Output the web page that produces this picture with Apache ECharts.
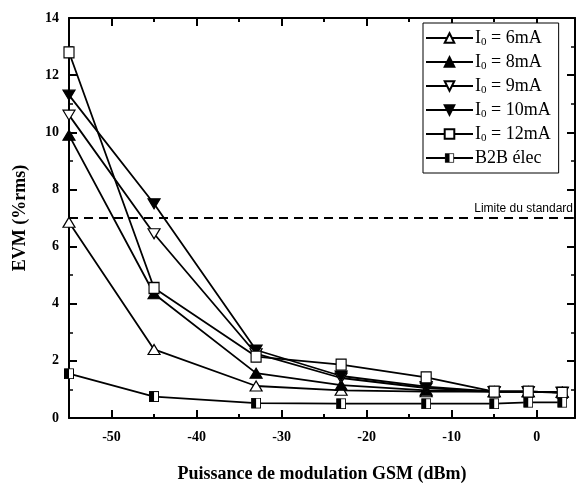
<!DOCTYPE html>
<html><head><meta charset="utf-8">
<script src="https://cdn.jsdelivr.net/npm/echarts@6/dist/echarts.min.js"></script>
<style>html,body{margin:0;padding:0;background:#fff}#c{width:577px;height:488px}</style>
</head><body><div id="c"></div>
<script>
var xPower = [-55, -45, -33, -23, -13, -5, -1, 3];
var i6mA  = [6.85, 2.40, 1.12, 0.97, 0.92, 0.92, 0.92, 0.90];
var i8mA  = [9.90, 4.35, 1.57, 1.15, 0.97, 0.92, 0.92, 0.90];
var i9mA  = [10.60, 6.45, 2.25, 1.40, 1.05, 0.92, 0.92, 0.90];
var i10mA = [11.30, 7.50, 2.38, 1.47, 1.10, 0.92, 0.92, 0.90];
var i12mA = [12.80, 4.55, 2.15, 1.87, 1.42, 0.92, 0.92, 0.88];
var b2b   = [1.55, 0.75, 0.52, 0.50, 0.50, 0.50, 0.55, 0.55];
var seriesNames = ['I0 = 6mA', 'I0 = 8mA', 'I0 = 9mA', 'I0 = 10mA', 'I0 = 12mA', 'B2B élec'];
var xMajorTicks = [-50, -40, -30, -20, -10, 0];
var xMinorTicks = [-45, -35, -25, -15, -5];
var limitValue = 7;
var limitLabel = 'Limite du standard';

function pairs(vals){ return xPower.map(function(x,i){ return [x, vals[i]]; }); }
var downTri = 'path://M0,0 L10,0 L5,9 Z';
var halfSq = 'image://data:image/svg+xml;charset=utf-8,' + encodeURIComponent(
  '<svg xmlns="http://www.w3.org/2000/svg" width="20" height="22" viewBox="0 0 20 22">' +
  '<rect x="1" y="1" width="18" height="20" fill="#fff" stroke="#000" stroke-width="2"/>' +
  '<rect x="1" y="1" width="9" height="20" fill="#000"/></svg>');

function mk(name, vals, symbol, size, fill){
  return {
    name: name, type: 'line', data: pairs(vals), xAxisIndex: 0, yAxisIndex: 0,
    symbol: symbol, symbolSize: size, showSymbol: true,
    lineStyle: {color: '#000', width: 1.8},
    itemStyle: {color: fill, borderColor: '#000', borderWidth: 1.2},
    emphasis: {disabled: true}, animation: false
  };
}
var series = [
  mk(seriesNames[0], i6mA, 'triangle', [12, 10], '#fff'),
  mk(seriesNames[1], i8mA, 'triangle', [12, 10], '#000'),
  mk(seriesNames[2], i9mA, downTri, [12, 10], '#fff'),
  mk(seriesNames[3], i10mA, downTri, [12, 10], '#000'),
  mk(seriesNames[4], i12mA, 'rect', [10, 11], '#fff'),
  mk(seriesNames[5], b2b, halfSq, [10, 11], '#000')
];
series[5].markLine = {
  silent: true, symbol: 'none', animation: false,
  lineStyle: {color: '#000', type: [9, 6], width: 2},
  label: {show: true, formatter: limitLabel, position: 'insideEndTop', distance: [2, 3],
          color: '#000', fontFamily: 'Liberation Sans', fontSize: 12},
  data: [{yAxis: limitValue}]
};

var serif = 'Liberation Serif';
function xAx(pos, ticks, len, labels, line){
  return {
    type: 'value', position: pos, min: -55, max: 4.5, gridIndex: 0,
    axisLine: {show: line, onZero: false, lineStyle: {color: '#000', width: 2}},
    axisTick: {show: true, inside: true, length: len, customValues: ticks, lineStyle: {color: '#000', width: 2}},
    axisLabel: labels ? {show: true, customValues: ticks, color: '#000', fontFamily: serif, fontWeight: 'bold', fontSize: 14, margin: 12} : {show: false},
    splitLine: {show: false}
  };
}
function yAx(pos, labels){
  return {
    type: 'value', position: pos, min: 0, max: 14, interval: 2, gridIndex: 0,
    axisLine: {show: true, onZero: false, lineStyle: {color: '#000', width: 2}},
    axisTick: {show: true, inside: true, length: 8, lineStyle: {color: '#000', width: 2}},
    minorTick: {show: true, splitNumber: 2, length: 4, lineStyle: {color: '#000', width: 1.5}},
    axisLabel: labels ? {show: true, color: '#000', fontFamily: serif, fontWeight: 'bold', fontSize: 14, margin: 10} : {show: false},
    splitLine: {show: false}, minorSplitLine: {show: false}
  };
}
var xA0 = xAx('bottom', xMajorTicks, 8, true, true);
xA0.name = 'Puissance de modulation GSM (dBm)';
xA0.nameLocation = 'middle'; xA0.nameGap = 47;
xA0.nameTextStyle = {color: '#000', fontFamily: serif, fontWeight: 'bold', fontSize: 18};
var yA0 = yAx('left', true);
yA0.name = 'EVM (%rms)'; yA0.nameLocation = 'middle'; yA0.nameGap = 40;
yA0.nameTextStyle = {color: '#000', fontFamily: serif, fontWeight: 'bold', fontSize: 18};

var option = {
  animation: false,
  backgroundColor: '#fff',
  grid: {left: 69, right: 2, top: 18, bottom: 60, containLabel: false},
  xAxis: [xA0, xAx('bottom', xMinorTicks, 4, false, false), xAx('top', xMajorTicks, 8, false, true), xAx('top', xMinorTicks, 4, false, false)],
  yAxis: [yA0, yAx('right', false)],
  legend: {
    orient: 'vertical', left: 423, top: 23,
    backgroundColor: '#fff', borderColor: '#000', borderWidth: 1, borderRadius: 0,
    padding: [6, 8, 6, 2], itemGap: 5, itemWidth: 47, itemHeight: 12,
    data: seriesNames,
    formatter: function(n){
      if (n.indexOf('I0') === 0) return '{a|I}{s|0}{a|' + n.slice(2) + '}';
      return '{a|' + n + '}';
    },
    textStyle: {color: '#000', fontFamily: serif, fontSize: 18, padding: [0, 0, 0, -3],
      rich: {a: {fontFamily: serif, fontSize: 18, lineHeight: 20, color: '#000'},
             s: {fontFamily: serif, fontSize: 11, lineHeight: 20, color: '#000', verticalAlign: 'bottom', padding: [4, 0, 0, 0]}}}
  },
  series: series
};
var chart = echarts.init(document.getElementById('c'), null, {renderer: 'canvas'});
chart.setOption(option);
</script></body></html>
